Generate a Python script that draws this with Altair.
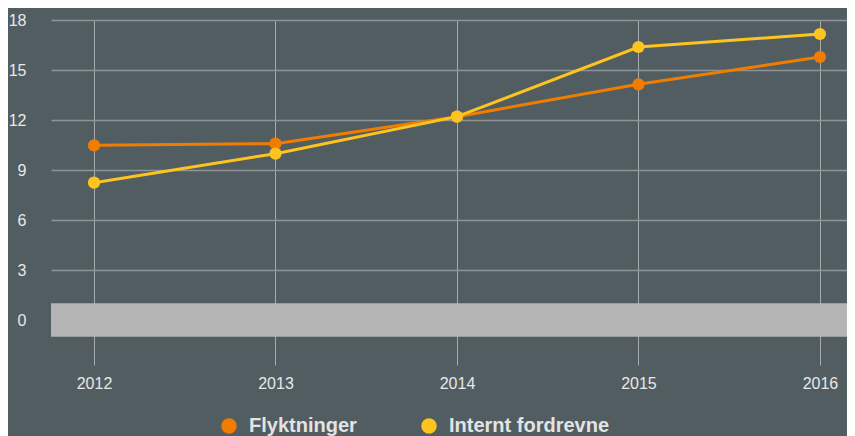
import altair as alt
import pandas as pd

years = [2012, 2013, 2014, 2015, 2016]
flyktninger = [10.48, 10.58, 12.2, 14.14, 15.78]
internt = [8.24, 9.98, 12.2, 16.38, 17.16]
series_names = ["Flyktninger", "Internt fordrevne"]
series_colors = ["#f07d00", "#fdc41f"]
y_ticks = [0, 3, 6, 9, 12, 15, 18]
band_low, band_high = [-1], [1]

rows = []
for name, vals in zip(series_names, [flyktninger, internt]):
    for yr, v in zip(years, vals):
        rows.append({"year": yr, "value": v, "series": name})
df = pd.DataFrame(rows)
band_df = pd.DataFrame({"lo": band_low, "hi": band_high})

W, H = 796, 345
x_scale = alt.Scale(domain=[2011.763, 2016.149], nice=False, zero=False)
y_scale = alt.Scale(domain=[-2.7, 18], nice=False, zero=False)
color_scale = alt.Scale(domain=series_names, range=series_colors)

x_axis = alt.Axis(
    values=years, format="d", title=None, grid=True, gridColor="#a6abad",
    gridWidth=1, domain=False, ticks=False, labelPadding=10, labelFontSize=16,
    labelColor="#e8e8e8", labelFont="Liberation Sans")
y_axis = alt.Axis(
    values=y_ticks, title=None, grid=True, gridColor="#8d9497", gridWidth=1.5,
    domain=False, ticks=False, labelPadding=25, labelFontSize=16,
    labelColor="#e8e8e8", labelFont="Liberation Sans", labelBaseline="middle")

legend = alt.Legend(
    title=None, orient="none", legendX=168, legendY=396,
    direction="horizontal", symbolType="circle", symbolSize=240,
    symbolOpacity=1, symbolStrokeWidth=0,
    labelFontSize=20, labelFontWeight="bold", labelColor="#e3e3e3",
    labelFont="Liberation Sans", labelOffset=10, columnPadding=62,
    padding=0, labelLimit=400)

band = alt.Chart(band_df).mark_rect(color="#b4b4b4").encode(
    x=alt.value(0), x2=alt.value("width"),
    y=alt.Y("lo:Q", scale=y_scale, axis=y_axis), y2="hi:Q")

lines = alt.Chart(df).mark_line(strokeWidth=3).encode(
    x=alt.X("year:Q", scale=x_scale, axis=x_axis),
    y=alt.Y("value:Q", scale=y_scale, axis=y_axis),
    color=alt.Color("series:N", scale=color_scale, legend=legend),
    order=alt.Order("year:Q"))

points = alt.Chart(df).mark_circle(size=150, opacity=1).encode(
    x=alt.X("year:Q", scale=x_scale, axis=x_axis),
    y=alt.Y("value:Q", scale=y_scale, axis=y_axis),
    color=alt.Color("series:N", scale=color_scale, legend=legend))

chart = alt.layer(band, lines, points).properties(
    width=W, height=H,
    autosize=alt.AutoSizeParams(type="none"),
    padding={"left": 43, "top": 12, "right": 0, "bottom": 71},
    background="#525d62",
).configure_view(stroke=None)

chart.save("out.html", embed_options={"renderer": "svg", "actions": False})
